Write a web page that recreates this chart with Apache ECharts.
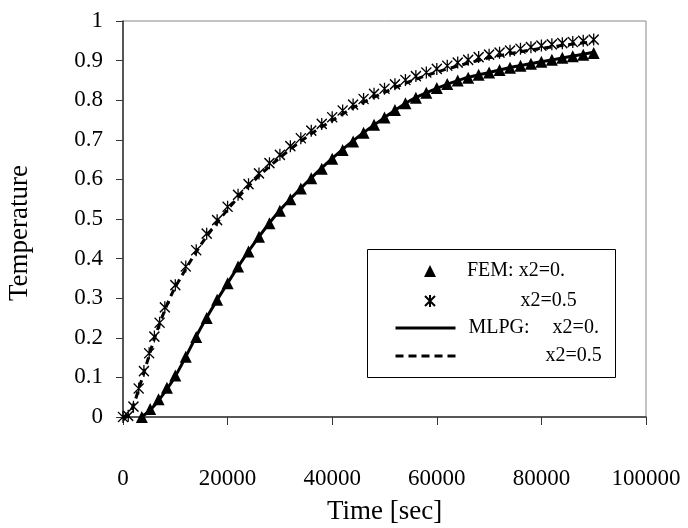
<!DOCTYPE html>
<html>
<head>
<meta charset="utf-8">
<script src="https://cdn.jsdelivr.net/npm/echarts@6/dist/echarts.min.js"></script>
<style>html,body{margin:0;padding:0;background:#fff}#c{width:688px;height:528px}</style>
</head>
<body>
<div id="c"></div>
<script>
// ---- data ----
const xTicks = [0, 20000, 40000, 60000, 80000, 100000];
const yTicks = [0, 0.1, 0.2, 0.3, 0.4, 0.5, 0.6, 0.7, 0.8, 0.9, 1];

const femTime0 = [3600,5200,6800,8400,10000,12000,14000,16000,18000,20000,22000,24000,26000,28000,30000,32000,34000,36000,38000,40000,42000,44000,46000,48000,50000,52000,54000,56000,58000,60000,62000,64000,66000,68000,70000,72000,74000,76000,78000,80000,82000,84000,86000,88000,90000];
const femTemp0 = [0.0,0.02,0.045,0.074,0.105,0.152,0.202,0.250,0.296,0.338,0.380,0.418,0.455,0.489,0.521,0.550,0.577,0.603,0.627,0.652,0.674,0.696,0.718,0.738,0.756,0.775,0.792,0.806,0.819,0.831,0.841,0.850,0.857,0.864,0.870,0.876,0.882,0.887,0.892,0.897,0.902,0.907,0.911,0.915,0.919];

const femTime5 = [0,1000,2000,3000,4000,5000,6000,7000,8000,10000,12000,14000,16000,18000,20000,22000,24000,26000,28000,30000,32000,34000,36000,38000,40000,42000,44000,46000,48000,50000,52000,54000,56000,58000,60000,62000,64000,66000,68000,70000,72000,74000,76000,78000,80000,82000,84000,86000,88000,90000];
const femTemp5 = [0,0.003,0.026,0.072,0.116,0.161,0.203,0.238,0.277,0.333,0.380,0.421,0.463,0.497,0.531,0.561,0.588,0.615,0.641,0.662,0.684,0.704,0.723,0.740,0.757,0.774,0.789,0.803,0.816,0.829,0.840,0.851,0.861,0.870,0.879,0.887,0.895,0.902,0.909,0.915,0.920,0.925,0.930,0.934,0.938,0.941,0.944,0.947,0.950,0.953];

const mlpgTime0 = [3400,5000,7000,10000,15000,20000,25000,30000,35000,40000,45000,50000,55000,60000,65000,70000,75000,80000,85000,90000];
const mlpgTemp0 = [0,0.015,0.045,0.103,0.228,0.338,0.437,0.522,0.591,0.653,0.708,0.756,0.800,0.830,0.854,0.870,0.885,0.897,0.909,0.921];

const mlpgTime5 = [0,1000,2000,3000,4000,6000,8000,10000,15000,20000,25000,30000,35000,40000,45000,50000,55000,60000,65000,70000,75000,80000,85000,90000];
const mlpgTemp5 = [0,0.005,0.03,0.07,0.112,0.198,0.27,0.328,0.437,0.524,0.596,0.655,0.706,0.749,0.788,0.820,0.848,0.871,0.890,0.907,0.920,0.931,0.940,0.948];

const seriesNames = ['FEM: x2=0.', 'FEM: x2=0.5', 'MLPG: x2=0.', 'MLPG: x2=0.5'];
const legendLabels = ['{a|FEM: x2=0.}', '{b|x2=0.5}', '{a|MLPG:}{c|x2=0.}', '{d|x2=0.5}'];

// ---- chart ----
const zip = (a, b) => a.map((v, i) => [v, b[i]]);
const FONT = '"Liberation Serif", "Times New Roman", serif';
const STAR = 'path://M0,0L10,10M10,0L0,10M5,-1L5,11';

const chart = echarts.init(document.getElementById('c'), null, {renderer: 'canvas'});

const richBase = {fontFamily: FONT, fontSize: 20, color: '#000'};
function legendAt(idx, left, top, w, h, pad, lineType) {
  const item = {name: seriesNames[idx]};
  if (lineType) {
    item.itemStyle = {opacity: 0};
    item.lineStyle = {width: 3, color: '#000', type: lineType};
  }
  return {
    data: [item], left: left, top: top, orient: 'horizontal',
    itemWidth: w, itemHeight: h, selectedMode: false, padding: 0,
    formatter: () => legendLabels[idx],
    textStyle: Object.assign({}, richBase, {
      rich: {
        a: Object.assign({}, richBase, {padding: [0, 0, 0, pad]}),
        b: Object.assign({}, richBase, {padding: [0, 0, 0, pad]}),
        c: Object.assign({}, richBase, {padding: [0, 0, 0, 23]}),
        d: Object.assign({}, richBase, {padding: [0, 0, 0, pad]})
      }})
  };
}

chart.setOption({
  animation: false,
  backgroundColor: '#fff',
  grid: {left: 123, right: 42, top: 21, bottom: 111, show: true, borderColor: '#888', borderWidth: 1,
         containLabel: false, outerBoundsMode: 'none'},
  xAxis: {
    type: 'value', min: xTicks[0], max: xTicks[xTicks.length - 1], interval: xTicks[1] - xTicks[0],
    name: 'Time [sec]', nameLocation: 'middle', nameGap: 81,
    nameTextStyle: {fontFamily: FONT, fontSize: 27, color: '#000'},
    axisLine: {show: true, lineStyle: {color: '#333', width: 1.5}},
    axisTick: {show: true, length: 8, lineStyle: {color: '#333', width: 1}},
    axisLabel: {fontFamily: FONT, fontSize: 23, color: '#000', margin: 50, formatter: v => String(v)},
    splitLine: {show: false}
  },
  yAxis: {
    type: 'value', min: yTicks[0], max: yTicks[yTicks.length - 1], interval: yTicks[1] - yTicks[0],
    name: 'Temperature', nameLocation: 'middle', nameGap: 90,
    nameTextStyle: {fontFamily: FONT, fontSize: 27, color: '#000', padding: [0, 28, 0, 0]},
    axisLine: {show: true, lineStyle: {color: '#333', width: 1.5}},
    axisTick: {show: true, length: 7, lineStyle: {color: '#333', width: 1}},
    axisLabel: {fontFamily: FONT, fontSize: 23, color: '#000', margin: 20},
    splitLine: {show: false}
  },
  legend: [
    legendAt(0, 424, 261, 12, 12, 26, null),
    legendAt(1, 424, 291, 11, 12, 80, null),
    legendAt(2, 394, 318, 60, 12, 8, 'solid'),
    legendAt(3, 394, 346, 60, 12, 85, [8, 5])
  ],
  graphic: [{
    type: 'rect', left: 367, top: 249, shape: {width: 248, height: 128},
    style: {fill: '#fff', stroke: '#000', lineWidth: 1}, z: 0, silent: true
  }],
  series: [
    {name: seriesNames[3], type: 'line', data: zip(mlpgTime5, mlpgTemp5), showSymbol: false, symbol: 'none',
     smooth: 0.3, lineStyle: {color: '#000', width: 3, type: [7, 5]}, itemStyle: {color: '#000'}, z: 2},
    {name: seriesNames[2], type: 'line', data: zip(mlpgTime0, mlpgTemp0), showSymbol: false, symbol: 'none',
     smooth: 0.3, lineStyle: {color: '#000', width: 3, type: 'solid'}, itemStyle: {color: '#000'}, z: 2},
    {name: seriesNames[1], type: 'scatter', data: zip(femTime5, femTemp5), symbol: STAR, symbolSize: [10, 12],
     itemStyle: {color: 'rgba(0,0,0,0)', borderColor: '#000', borderWidth: 1.4, opacity: 1}, z: 3},
    {name: seriesNames[0], type: 'scatter', data: zip(femTime0, femTemp0), symbol: 'triangle', symbolSize: [12, 12],
     itemStyle: {color: '#000', opacity: 1}, z: 3}
  ]
});
</script>
</body>
</html>
